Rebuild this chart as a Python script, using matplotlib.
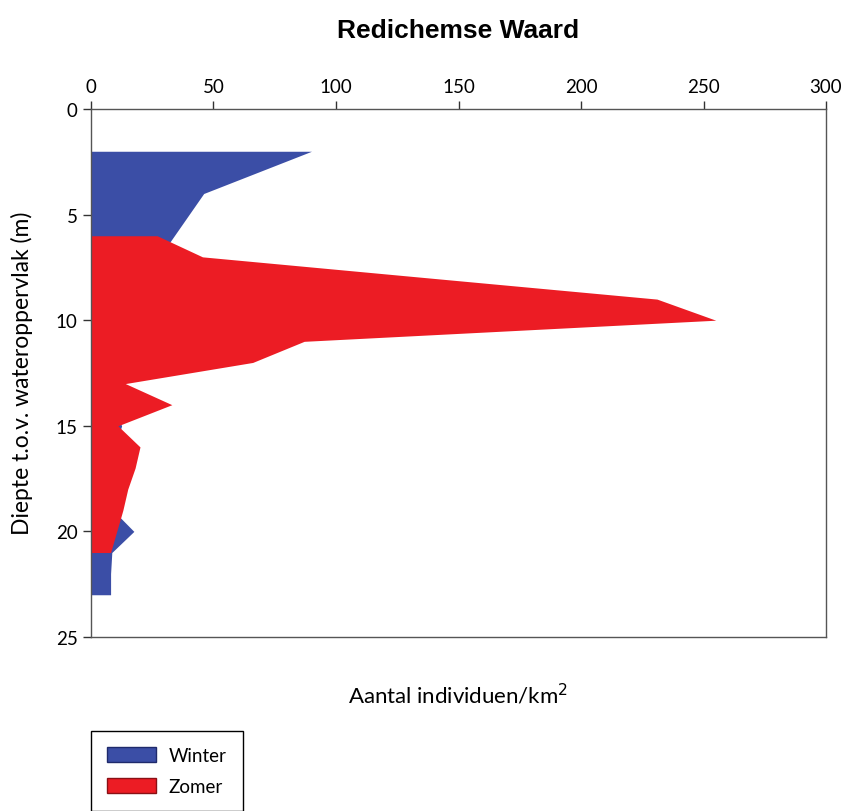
import matplotlib
matplotlib.use("Agg")
import matplotlib.pyplot as plt
from matplotlib.patches import Patch

# depth (m) and counts
winterDepth = [2, 4, 5, 6, 7, 8, 9, 10, 11, 12, 13, 14, 15, 16, 17, 18, 19, 20, 21, 22, 23]
winter = [90, 46, 40, 34, 28, 25, 22, 20, 18, 15, 10, 9, 12.5, 10, 9, 8, 9, 17.5, 8.5, 8, 8]

zomerDepth = [6, 7, 8, 9, 10, 11, 12, 13, 14, 15, 16, 17, 18, 19, 20, 21]
zomer = [27, 45.5, 138, 231, 255, 87, 66, 14, 33, 11, 20, 18, 15, 13, 10.5, 8]

xTicks = [0, 50, 100, 150, 200, 250, 300]
yTicks = [0, 5, 10, 15, 20, 25]

blue = "#3b4ea6"
red = "#ec1c24"
labelFont = ["Lato", "DejaVu Sans"]

fig = plt.figure(figsize=(8.44, 8.12), dpi=100)
ax = fig.add_axes([0.1078, 0.2143, 0.8709, 0.6502])

ax.fill_betweenx(winterDepth, 0, winter, color=blue, linewidth=0)
ax.fill_betweenx(zomerDepth, 0, zomer, color=red, linewidth=0)

ax.set_xlim(0, 300)
ax.set_ylim(25, 0)
ax.set_xticks(xTicks)
ax.set_yticks(yTicks)
ax.xaxis.tick_top()
ax.tick_params(direction="out", length=6, width=1, colors="#333333", labelcolor="black")
ax.tick_params(axis="x", pad=4)
for lab in ax.get_xticklabels() + ax.get_yticklabels():
    lab.set_family(labelFont)
    lab.set_fontsize(13.5)
for sp in ax.spines.values():
    sp.set_color("#555555")
    sp.set_linewidth(1)

fig.text(0.543, 0.962, "Redichemse Waard", ha="center", va="center",
         fontsize=19, fontweight="bold", family=["Liberation Sans", "DejaVu Sans"])
fig.text(0.543, 0.144, "Aantal individuen/km$^2$", ha="center", va="center",
         fontsize=16, family=labelFont)
fig.text(0.026, 0.54, "Diepte t.o.v. wateroppervlak (m)", ha="center", va="center",
         rotation=90, fontsize=16.5, family=labelFont)

handles = [Patch(facecolor=blue, edgecolor="#1f2a6b", label="Winter"),
           Patch(facecolor=red, edgecolor="#8a1015", label="Zomer")]
leg = fig.legend(handles=handles, loc="upper left", bbox_to_anchor=(0.1078, 0.0985),
                 borderaxespad=0, fancybox=False, framealpha=1, edgecolor="black",
                 handlelength=2.6, handleheight=0.85, handletextpad=0.7,
                 borderpad=0.85, labelspacing=0.75,
                 prop={"family": labelFont, "size": 13.5})
leg.get_frame().set_linewidth(1)

fig.savefig("out.png", dpi=100)
